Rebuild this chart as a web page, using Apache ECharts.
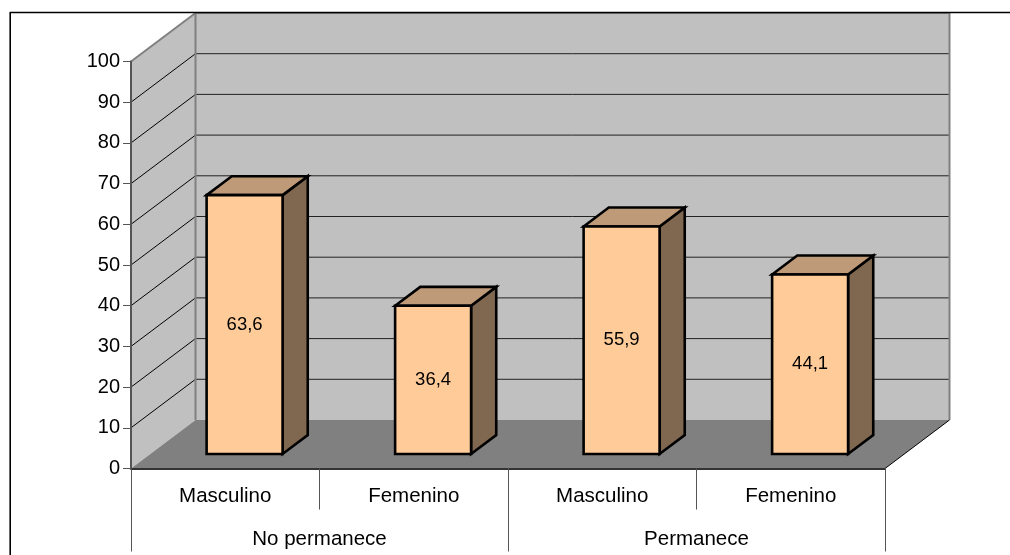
<!DOCTYPE html>
<html>
<head>
<meta charset="utf-8">
<style>html,body{margin:0;padding:0;background:#fff}#chart{width:1010px;height:555px}</style>
<script src="https://cdn.jsdelivr.net/npm/echarts@6/dist/echarts.min.js"></script>
</head>
<body>
<div id="chart"></div>
<script>
// Survey shares by sex, grouped by whether the respondent stays
const groupLabels = ['No permanece', 'Permanece'];
const sexLabels = ['Masculino', 'Femenino', 'Masculino', 'Femenino'];
const shares = [63.6, 36.4, 55.9, 44.1];
const valueLabels = ['63,6', '36,4', '55,9', '44,1'];
const yMax = 100;
const yStep = 10;

// Oblique projection: how far the back wall sits from the front plane
const depthX = 64.5, depthY = -48.5;
const barNear = 0.3, barFar = 0.69, barWidthRatio = 0.403;
const FONT = '"Liberation Sans", Arial, sans-serif';

const poly = (points, fill, stroke, lineWidth) => ({
  type: 'polygon',
  shape: { points },
  style: { fill, stroke: stroke || 'none', lineWidth: lineWidth || 0, lineJoin: 'miter' }
});
const line = (a, b, stroke, lineWidth) => ({
  type: 'line',
  shape: { x1: a[0], y1: a[1], x2: b[0], y2: b[1] },
  style: { stroke, lineWidth }
});
const shift = (p, t) => [p[0] + depthX * t, p[1] + depthY * t];

// Back wall, side wall, floor and gridlines of the box
function renderBox(params, api) {
  const n = sexLabels.length;
  const o = api.coord([0, 0]);
  const band = api.size([1, 0])[0];
  const left = o[0] - band / 2, right = left + band * n;
  const y0 = o[1], yTop = api.coord([0, yMax])[1];
  const fl = [left, y0], fr = [right, y0], tl = [left, yTop], tr = [right, yTop];
  const items = [
    poly([shift(tl, 1), shift(tr, 1), shift(fr, 1), shift(fl, 1)], '#c0c0c0'),
    poly([tl, shift(tl, 1), shift(fl, 1), fl], '#c0c0c0'),
    poly([fl, shift(fl, 1), shift(fr, 1), fr], '#808080')
  ];
  for (let v = yStep; v < yMax; v += yStep) {
    const y = api.coord([0, v])[1];
    items.push(line([left, y], shift([left, y], 1), '#000', 1));
    items.push(line(shift([left, y], 1), shift([right, y], 1), '#222', 1));
  }
  items.push(line(tl, shift(tl, 1), '#808080', 2));
  items.push(line(shift(tl, 1), shift(fl, 1), '#808080', 2));
  items.push(line(shift(tr, 1), shift(fr, 1), '#808080', 2));
  items.push(line(shift(tl, 1), shift(tr, 1), '#808080', 2));
  items.push(line(fr, shift(fr, 1), '#000', 1));
  // Chart area border, open on the right and at the bottom
  items.push(line([10, 12.5], [1010, 12.5], '#000', 1.6));
  items.push(line([10.2, 12], [10.2, 555], '#000', 1.6));
  return { type: 'group', children: items };
}

// One oblique bar: front face, top and right side, with its value in the middle
function renderBar(params, api) {
  const i = api.value(0), v = api.value(1);
  const c = api.coord([i, 0]), t = api.coord([i, v]);
  const half = api.size([1, 0])[0] * barWidthRatio / 2;
  const bl = shift([c[0] - half, c[1]], barNear), br = shift([c[0] + half, c[1]], barNear);
  const tl = shift([c[0] - half, t[1]], barNear), tr = shift([c[0] + half, t[1]], barNear);
  const d = barFar - barNear;
  const s = 2.6;
  return {
    type: 'group',
    children: [
      poly([br, tr, shift(tr, d), shift(br, d)], '#7f6750', '#000', s),
      poly([tl, shift(tl, d), shift(tr, d), tr], '#bf9a78', '#000', s),
      poly([tl, tr, br, bl], '#ffcc99', '#000', s),
      {
        type: 'text',
        style: {
          x: (bl[0] + br[0]) / 2, y: (bl[1] + tl[1]) / 2,
          text: valueLabels[i], fill: '#000',
          font: '18.5px ' + FONT, textAlign: 'center', textVerticalAlign: 'middle'
        }
      }
    ]
  };
}

const chart = echarts.init(document.getElementById('chart'), null, { renderer: 'canvas' });
chart.setOption({
  animation: false,
  backgroundColor: '#fff',
  grid: { left: 131, right: 125, top: 61.5, bottom: 86.5 },
  xAxis: [
    {
      type: 'category', data: sexLabels, position: 'bottom', z: 5,
      axisLine: { show: true, lineStyle: { color: '#333', width: 2 } },
      axisTick: { show: true, length: 41, lineStyle: { color: '#555', width: 1 } },
      axisLabel: { color: '#000', fontFamily: FONT, fontSize: 20.5, margin: 17 }
    },
    {
      type: 'category', data: groupLabels, position: 'bottom', z: 5,
      axisLine: { show: false },
      axisTick: { show: true, length: 83, lineStyle: { color: '#555', width: 1 } },
      axisLabel: { color: '#000', fontFamily: FONT, fontSize: 20.5, margin: 60 }
    }
  ],
  yAxis: {
    type: 'value', min: 0, max: yMax, interval: yStep, z: 5,
    axisLine: { show: true, lineStyle: { color: '#555', width: 2 } },
    axisTick: { show: true, length: 8, lineStyle: { color: '#555', width: 1 } },
    axisLabel: { color: '#000', fontFamily: FONT, fontSize: 20, margin: 11 },
    splitLine: { show: false }
  },
  series: [
    { type: 'custom', name: 'box', renderItem: renderBox, data: [[0, 0]], z: 1, silent: true, clip: false },
    {
      type: 'custom', name: 'share', renderItem: renderBar, z: 3, silent: true, clip: false,
      encode: { x: 0, y: 1 },
      data: shares.map((v, i) => [i, v])
    }
  ]
});
</script>
</body>
</html>
